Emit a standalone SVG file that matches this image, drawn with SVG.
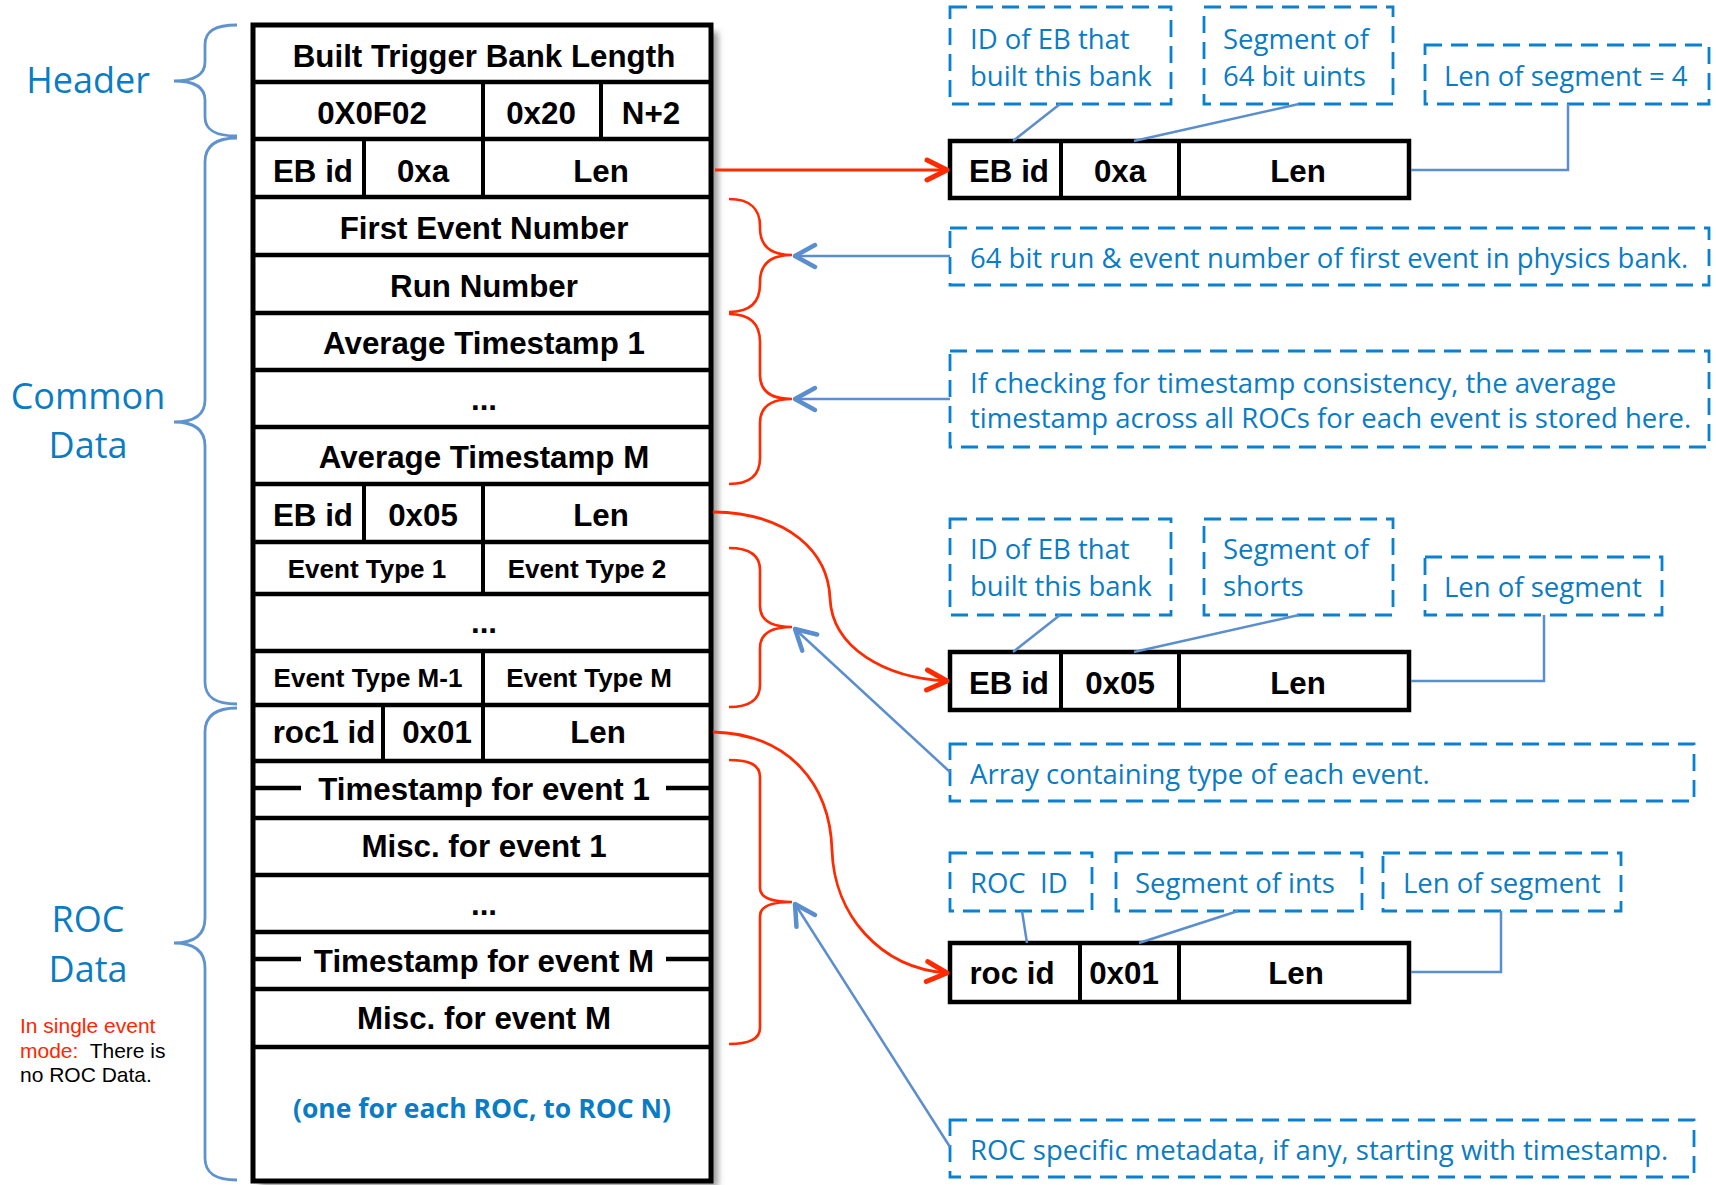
<svg xmlns="http://www.w3.org/2000/svg" width="1716" height="1185" viewBox="0 0 1716 1185">
<style>
  .cell { fill: #ffffff; }
  .tb { fill: #000; font-family: "Liberation Sans", Arial, sans-serif; font-weight: bold; font-size: 31.3px; text-anchor: middle; }
  .tbs { fill: #000; font-family: "Liberation Sans", Arial, sans-serif; font-weight: bold; font-size: 26px; text-anchor: middle; }
  .hl { stroke: #000; stroke-width: 4.5; fill: none; }
  .vl { stroke: #000; stroke-width: 4; fill: none; }
  .lbl { fill: #0A7CC4; font-family: "Open Sans", "Noto Sans", sans-serif; font-size: 36px; text-anchor: middle; }
  .ann { fill: #0A7CC4; font-family: "Open Sans", "Noto Sans", sans-serif; font-size: 27.5px; }
  .dash { fill: none; stroke: #0A80D0; stroke-width: 2.8; stroke-dasharray: 17 9; }
  .lead { fill: none; stroke: #5B8ECE; stroke-width: 2.5; }
  .barrow { fill: none; stroke: #5B8ECE; stroke-width: 2.5; marker-end: url(#bhead); }
  .rarrow { fill: none; stroke: #FF2A00; stroke-width: 2.8; marker-end: url(#rhead); }
  .rbrace { fill: none; stroke: #FF2A00; stroke-width: 2.6; }
  .bbrace { fill: none; stroke: #5F93CF; stroke-width: 2.8; }
  .note { font-family: "Liberation Sans", Arial, sans-serif; font-size: 21px; }
</style>
<defs>
  <marker id="rhead" markerUnits="userSpaceOnUse" viewBox="-26 -16 30 32" refX="0" refY="0" markerWidth="30" markerHeight="32" orient="auto">
    <path d="M-20,-10 L0,0 L-20,10" fill="none" stroke="#FF2A00" stroke-width="5" stroke-linecap="round" stroke-linejoin="round"/>
  </marker>
  <marker id="bhead" markerUnits="userSpaceOnUse" viewBox="-26 -16 30 32" refX="0" refY="0" markerWidth="30" markerHeight="32" orient="auto">
    <path d="M-20,-11 L0,0 L-20,11" fill="none" stroke="#5B8ECE" stroke-width="4.5" stroke-linecap="round" stroke-linejoin="round"/>
  </marker>
  <filter id="shadow" x="-10%" y="-5%" width="130%" height="120%">
    <feGaussianBlur stdDeviation="3"/>
  </filter>
</defs>
<rect width="1716" height="1185" fill="#ffffff"/>

<!-- left labels -->
<g id="label-header"><text class="lbl" x="88" y="93">Header</text></g>
<g id="label-common"><text class="lbl" x="88" y="409">Common</text><text class="lbl" x="88" y="458">Data</text></g>
<g id="label-roc"><text class="lbl" x="88" y="932">ROC</text><text class="lbl" x="88" y="982">Data</text></g>
<g id="note-single">
  <text class="note" x="20" y="1033" fill="#FF2600">In single event</text>
  <text class="note" x="20" y="1058" xml:space="preserve"><tspan fill="#FF2600">mode:</tspan><tspan fill="#000">  There is</tspan></text>
  <text class="note" x="20" y="1082" fill="#000">no ROC Data.</text>
</g>

<!-- left braces -->
<g id="braces-left">
  <path class="bbrace" d="M237,25 C215,25 205,31 205,45 L205,62 C205,74 195,81 174,81 C195,81 205,88 205,100 L205,117 C205,130 215,136 237,136"/>
  <path class="bbrace" d="M237,138 C215,138 205,146 205,162 L205,400 C205,414 195,422 174,422 C195,422 205,430 205,446 L205,682 C205,697 215,704 237,704"/>
  <path class="bbrace" d="M237,708 C215,708 205,716 205,732 L205,918 C205,934 195,943 174,943 C195,943 205,952 205,968 L205,1158 C205,1173 215,1180 237,1180"/>
</g>

<!-- main bank table -->
<g id="trigger-bank">
  <rect x="260" y="32" width="458" height="1155" fill="#9a9a9a" filter="url(#shadow)"/>
  <rect x="253" y="25" width="458" height="1156" fill="#ffffff" stroke="#000" stroke-width="5"/>
  <g id="row-length">
    <text class="tb" x="484" y="67">Built Trigger Bank Length</text>
  </g>
  <line class="hl" x1="253" y1="82" x2="711" y2="82"/>
  <g id="row-tag">
    <line class="vl" x1="483" y1="82" x2="483" y2="139"/>
    <line class="vl" x1="601" y1="82" x2="601" y2="139"/>
    <text class="tb" x="372" y="124">0X0F02</text>
    <text class="tb" x="541" y="124">0x20</text>
    <text class="tb" x="651" y="124">N+2</text>
  </g>
  <line class="hl" x1="253" y1="139" x2="711" y2="139"/>
  <g id="row-seg64">
    <line class="vl" x1="364" y1="139" x2="364" y2="197"/>
    <line class="vl" x1="483" y1="139" x2="483" y2="197"/>
    <text class="tb" x="313" y="182">EB id</text>
    <text class="tb" x="423" y="182">0xa</text>
    <text class="tb" x="601" y="182">Len</text>
  </g>
  <line class="hl" x1="253" y1="197" x2="711" y2="197"/>
  <g id="row-first-event"><text class="tb" x="484" y="239">First Event Number</text></g>
  <line class="hl" x1="253" y1="255" x2="711" y2="255"/>
  <g id="row-run"><text class="tb" x="484" y="297">Run Number</text></g>
  <line class="hl" x1="253" y1="313" x2="711" y2="313"/>
  <g id="row-avg1"><text class="tb" x="484" y="354">Average Timestamp 1</text></g>
  <line class="hl" x1="253" y1="370" x2="711" y2="370"/>
  <g id="row-avg-dots"><text class="tb" x="484" y="410">...</text></g>
  <line class="hl" x1="253" y1="427" x2="711" y2="427"/>
  <g id="row-avgM"><text class="tb" x="484" y="468">Average Timestamp M</text></g>
  <line class="hl" x1="253" y1="484" x2="711" y2="484"/>
  <g id="row-seg16">
    <line class="vl" x1="364" y1="484" x2="364" y2="542"/>
    <line class="vl" x1="483" y1="484" x2="483" y2="542"/>
    <text class="tb" x="313" y="526">EB id</text>
    <text class="tb" x="423" y="526">0x05</text>
    <text class="tb" x="601" y="526">Len</text>
  </g>
  <line class="hl" x1="253" y1="542" x2="711" y2="542"/>
  <g id="row-types12">
    <line class="vl" x1="483" y1="542" x2="483" y2="594"/>
    <text class="tbs" x="367" y="578">Event Type 1</text>
    <text class="tbs" x="587" y="578">Event Type 2</text>
  </g>
  <line class="hl" x1="253" y1="594" x2="711" y2="594"/>
  <g id="row-types-dots"><text class="tb" x="484" y="633">...</text></g>
  <line class="hl" x1="253" y1="651" x2="711" y2="651"/>
  <g id="row-typesM">
    <line class="vl" x1="483" y1="651" x2="483" y2="705"/>
    <text class="tbs" x="368" y="687">Event Type M-1</text>
    <text class="tbs" x="589" y="687">Event Type M</text>
  </g>
  <line class="hl" x1="253" y1="705" x2="711" y2="705"/>
  <g id="row-roc-seg">
    <line class="vl" x1="383" y1="705" x2="383" y2="761"/>
    <line class="vl" x1="483" y1="705" x2="483" y2="761"/>
    <text class="tb" x="324" y="743">roc1 id</text>
    <text class="tb" x="437" y="743">0x01</text>
    <text class="tb" x="598" y="743">Len</text>
  </g>
  <line class="hl" x1="253" y1="761" x2="711" y2="761"/>
  <g id="row-ts1">
    <line class="hl" x1="253" y1="788" x2="301" y2="788"/>
    <line class="hl" x1="666" y1="788" x2="711" y2="788"/>
    <text class="tb" x="484" y="800">Timestamp for event 1</text>
  </g>
  <line class="hl" x1="253" y1="818" x2="711" y2="818"/>
  <g id="row-misc1"><text class="tb" x="484" y="857">Misc. for event 1</text></g>
  <line class="hl" x1="253" y1="875" x2="711" y2="875"/>
  <g id="row-roc-dots"><text class="tb" x="484" y="915">...</text></g>
  <line class="hl" x1="253" y1="932" x2="711" y2="932"/>
  <g id="row-tsM">
    <line class="hl" x1="253" y1="959" x2="301" y2="959"/>
    <line class="hl" x1="666" y1="959" x2="711" y2="959"/>
    <text class="tb" x="484" y="972">Timestamp for event M</text>
  </g>
  <line class="hl" x1="253" y1="989" x2="711" y2="989"/>
  <g id="row-miscM"><text class="tb" x="484" y="1029">Misc. for event M</text></g>
  <line class="hl" x1="253" y1="1047" x2="711" y2="1047"/>
  <g id="row-more-rocs">
    <text x="482" y="1118" text-anchor="middle" font-family="Open Sans, Noto Sans, sans-serif" font-weight="bold" font-size="26.5" fill="#0A7CC4">(one for each ROC, to ROC N)</text>
  </g>
</g>

<!-- red braces on table -->
<g id="braces-right">
  <path class="rbrace" d="M729,199 C750,199 760,209 760,226 L760,228 C760,246 770,255 792,255 C770,255 760,264 760,282 L760,284 C760,302 750,312 729,312"/>
  <path class="rbrace" d="M729,314 C750,314 760,324 760,342 L760,375 C760,391 770,399 792,399 C770,399 760,407 760,423 L760,458 C760,475 750,484 729,484"/>
  <path class="rbrace" d="M729,548 C750,548 760,556 760,570 L760,606 C760,620 770,627 792,627 C770,627 760,634 760,648 L760,685 C760,699 750,707 729,707"/>
  <path class="rbrace" d="M729,760 C750,760 760,765 760,777 L760,888 C760,897 770,902 792,902 C770,902 760,907 760,916 L760,1028 C760,1039 750,1044 729,1044"/>
</g>

<!-- right side segment boxes -->
<g id="seg-box-64">
  <rect x="950" y="141" width="459" height="57" fill="#fff" stroke="#000" stroke-width="4.5"/>
  <line class="vl" x1="1061" y1="141" x2="1061" y2="198"/>
  <line class="vl" x1="1179" y1="141" x2="1179" y2="198"/>
  <text class="tb" x="1009" y="182">EB id</text>
  <text class="tb" x="1120" y="182">0xa</text>
  <text class="tb" x="1298" y="182">Len</text>
</g>
<g id="seg-box-16">
  <rect x="950" y="652" width="459" height="58" fill="#fff" stroke="#000" stroke-width="4.5"/>
  <line class="vl" x1="1061" y1="652" x2="1061" y2="710"/>
  <line class="vl" x1="1179" y1="652" x2="1179" y2="710"/>
  <text class="tb" x="1009" y="694">EB id</text>
  <text class="tb" x="1120" y="694">0x05</text>
  <text class="tb" x="1298" y="694">Len</text>
</g>
<g id="seg-box-roc">
  <rect x="950" y="943" width="459" height="59" fill="#fff" stroke="#000" stroke-width="4.5"/>
  <line class="vl" x1="1080" y1="943" x2="1080" y2="1002"/>
  <line class="vl" x1="1179" y1="943" x2="1179" y2="1002"/>
  <text class="tb" x="1012" y="984">roc id</text>
  <text class="tb" x="1124" y="984">0x01</text>
  <text class="tb" x="1296" y="984">Len</text>
</g>

<!-- dashed annotations -->
<g id="ann-ebid-1"><rect class="dash" x="950" y="7" width="221" height="97"/><text class="ann" x="970" y="49">ID of EB that</text><text class="ann" x="970" y="86">built this bank</text></g>
<g id="ann-seg64"><rect class="dash" x="1204" y="7" width="189" height="97"/><text class="ann" x="1223" y="49">Segment of</text><text class="ann" x="1223" y="86">64 bit uints</text></g>
<g id="ann-len4"><rect class="dash" x="1425" y="45" width="284" height="59"/><text class="ann" x="1444" y="86">Len of segment = 4</text></g>
<g id="ann-run"><rect class="dash" x="950" y="228" width="759" height="57"/><text class="ann" x="970" y="268">64 bit run &amp; event number of first event in physics bank.</text></g>
<g id="ann-avg"><rect class="dash" x="950" y="351" width="759" height="96"/><text class="ann" x="970" y="393">If checking for timestamp consistency, the average</text><text class="ann" x="970" y="428">timestamp across all ROCs for each event is stored here.</text></g>
<g id="ann-ebid-2"><rect class="dash" x="950" y="519" width="221" height="96"/><text class="ann" x="970" y="559">ID of EB that</text><text class="ann" x="970" y="596">built this bank</text></g>
<g id="ann-shorts"><rect class="dash" x="1204" y="519" width="189" height="96"/><text class="ann" x="1223" y="559">Segment of</text><text class="ann" x="1223" y="596">shorts</text></g>
<g id="ann-len-2"><rect class="dash" x="1425" y="557" width="237" height="58"/><text class="ann" x="1444" y="597">Len of segment</text></g>
<g id="ann-types"><rect class="dash" x="950" y="744" width="744" height="57"/><text class="ann" x="970" y="784">Array containing type of each event.</text></g>
<g id="ann-rocid"><rect class="dash" x="950" y="853" width="142" height="58"/><text class="ann" x="970" y="893">ROC&#160; ID</text></g>
<g id="ann-ints"><rect class="dash" x="1116" y="853" width="246" height="58"/><text class="ann" x="1135" y="893">Segment of ints</text></g>
<g id="ann-len-3"><rect class="dash" x="1383" y="853" width="238" height="58"/><text class="ann" x="1403" y="893">Len of segment</text></g>
<g id="ann-roc-meta"><rect class="dash" x="950" y="1120" width="744" height="57"/><text class="ann" x="970" y="1160">ROC specific metadata, if any, starting with timestamp.</text></g>

<!-- connectors -->
<g id="connectors">
  <path class="rarrow" d="M715,170 L947,170"/>
  <path class="rarrow" d="M713,512 C790,513 828,553 830,598 C832,648 885,678 947,681"/>
  <path class="rarrow" d="M713,732 C790,734 830,785 832,850 C834,915 880,968 947,973"/>
  <path class="barrow" d="M950,256 L795,256"/>
  <path class="barrow" d="M950,399 L795,399"/>
  <path class="barrow" d="M950,772 L795,629"/>
  <path class="barrow" d="M950,1147 L795,904"/>
  <path class="lead" d="M1060,104 L1013,141"/>
  <path class="lead" d="M1299,104 L1134,141"/>
  <path class="lead" d="M1568,104 L1568,170 L1411,170"/>
  <path class="lead" d="M1060,615 L1013,652"/>
  <path class="lead" d="M1299,615 L1134,652"/>
  <path class="lead" d="M1544,615 L1544,681 L1411,681"/>
  <path class="lead" d="M1022,911 L1027,943"/>
  <path class="lead" d="M1238,911 L1139,943"/>
  <path class="lead" d="M1501,911 L1501,972 L1411,972"/>
</g>
</svg>
